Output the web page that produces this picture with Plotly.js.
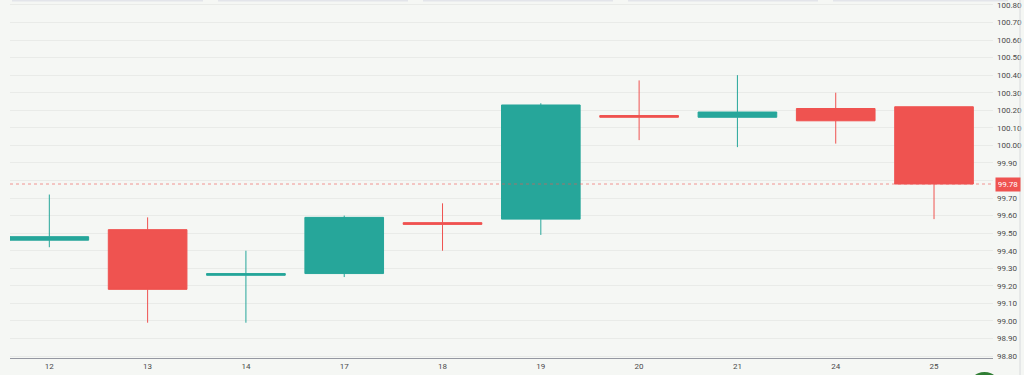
<!DOCTYPE html>
<html>
<head>
<meta charset="utf-8">
<script src="https://cdn.plot.ly/plotly-3.0.1.min.js"></script>
<style>
html,body{margin:0;padding:0;background:#f5f7f4;}
#chart{width:1024px;height:375px;}
</style>
</head>
<body>
<div id="chart"></div>
<script>
const days  = ["12","13","14","17","18","19","20","21","24","25"];
const opens = [99.46, 99.52, 99.26, 99.27, 99.56, 99.58, 100.17, 100.16, 100.21, 100.22];
const highs = [99.72, 99.59, 99.40, 99.60, 99.67, 100.24, 100.37, 100.40, 100.30, 100.22];
const lows  = [99.42, 98.99, 98.99, 99.25, 99.40, 99.49, 100.03, 99.99, 100.01, 99.58];
const closes= [99.48, 99.18, 99.27, 99.59, 99.55, 100.23, 100.16, 100.19, 100.14, 99.78];
const lastPrice = 99.78;

const UP = '#26a69a', DOWN = '#ef5350';

const trace = {
  type: 'candlestick',
  x: days, open: opens, high: highs, low: lows, close: closes,
  increasing: {line: {color: UP, width: 1}, fillcolor: UP},
  decreasing: {line: {color: DOWN, width: 1}, fillcolor: DOWN},
  whiskerwidth: 0,
  hoverinfo: 'skip',
  showlegend: false
};

const L = 10, R = 31, T = 0, B = 17, W = 1024, H = 375;
const pw = W - L - R, ph = H - T - B;
const px = x => (x - L) / pw;
const py = y => (H - B - y) / ph;

const topSegs = [[12,203],[218,408],[423,613],[628,818],[833,1008]];
const shapes = topSegs.map(s => ({
  type: 'line', xref: 'paper', yref: 'paper',
  x0: px(s[0]), x1: px(s[1]), y0: py(0.5), y1: py(0.5),
  line: {color: '#e3e5ea', width: 2}
}));
shapes.push({
  type: 'line', xref: 'paper', yref: 'y', x0: 0, x1: 1, y0: lastPrice, y1: lastPrice,
  line: {color: 'rgba(239,83,80,0.6)', width: 1, dash: 'dot'}
});
shapes.push({
  type: 'line', xref: 'paper', yref: 'paper', x0: px(1020), x1: px(1020), y0: py(0), y1: py(375),
  line: {color: '#d8dadd', width: 1}
});
shapes.push({
  type: 'circle', xref: 'paper', yref: 'paper',
  x0: px(968), x1: px(1001), y0: py(405), y1: py(372),
  fillcolor: '#2e7d32', line: {width: 0}
});

const layout = {
  width: W, height: H,
  margin: {l: L, r: R, t: T, b: B, pad: 0},
  paper_bgcolor: '#f5f7f4',
  plot_bgcolor: '#f5f7f4',
  font: {family: 'Roboto, "Open Sans", sans-serif', size: 8, color: '#4a4a4a'},
  boxgap: 0.2,
  boxgroupgap: 0,
  xaxis: {
    type: 'category',
    range: [-0.4, 9.6],
    rangeslider: {visible: false},
    showgrid: false,
    showline: true, linecolor: '#9598a1', linewidth: 1,
    ticks: '', tickfont: {size: 8, color: '#4a4a4a'},
    fixedrange: true
  },
  yaxis: {
    side: 'right',
    range: [98.789, 100.828],
    dtick: 0.1, tick0: 98.8,
    tickformat: '.2f',
    showgrid: true, gridcolor: '#e9ebe8', gridwidth: 1,
    zeroline: false, showline: false,
    ticks: '', ticklabelstandoff: 3,
    tickfont: {size: 8, color: '#4a4a4a'},
    fixedrange: true
  },
  shapes: shapes,
  annotations: [{
    xref: 'paper', yref: 'y', x: px(995), y: lastPrice,
    xanchor: 'left', yanchor: 'middle',
    text: lastPrice.toFixed(2), showarrow: false,
    bgcolor: DOWN, font: {color: '#ffffff', size: 8},
    borderpad: 2, width: 20
  }],
  showlegend: false,
  hovermode: false
};

Plotly.newPlot('chart', [trace], layout, {displayModeBar: false, staticPlot: true});
</script>
</body>
</html>
